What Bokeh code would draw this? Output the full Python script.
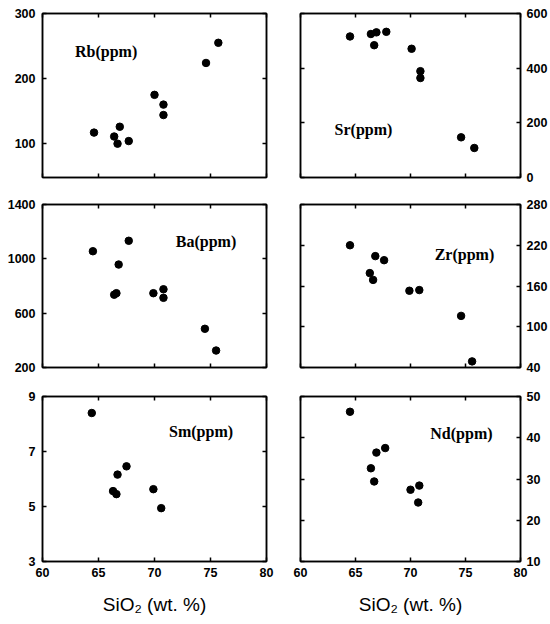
from bokeh.plotting import figure
from bokeh.models import LinearAxis, Range1d, FixedTicker, Label
from bokeh.layouts import gridplot
from bokeh.embed import file_html
from bokeh.resources import INLINE

# ---- data ----
x_ticks = [60, 65, 70, 75, 80]

rb_sio2 = [64.6, 66.4, 66.7, 66.9, 67.7, 70.0, 70.8, 70.8, 74.6, 75.7]
rb_ppm = [117, 111, 100, 126, 104, 175, 160, 144, 224, 255]

sr_sio2 = [64.5, 66.4, 66.7, 66.9, 67.8, 70.1, 70.9, 70.9, 74.6, 75.8]
sr_ppm = [516, 525, 484, 531, 533, 471, 389, 364, 147, 108]

ba_sio2 = [64.5, 66.4, 66.6, 66.8, 67.7, 69.9, 70.8, 70.8, 74.5, 75.5]
ba_ppm = [1056, 736, 747, 958, 1133, 747, 776, 713, 485, 325]

zr_sio2 = [64.5, 66.3, 66.6, 66.8, 67.6, 69.9, 70.8, 74.6, 75.6]
zr_ppm = [220, 179, 169, 204, 198, 153, 154, 116, 49]

sm_sio2 = [64.4, 66.3, 66.6, 66.7, 67.5, 69.9, 70.6]
sm_ppm = [8.4, 5.56, 5.45, 6.16, 6.46, 5.63, 4.94]

nd_sio2 = [64.5, 66.4, 66.7, 66.9, 67.7, 70.0, 70.8, 70.7]
nd_ppm = [46.3, 32.6, 29.4, 36.4, 37.5, 27.4, 28.4, 24.3]

rb_ticks = [100, 200, 300]
sr_ticks = [0, 200, 400, 600]
ba_ticks = [200, 600, 1000, 1400]
zr_ticks = [40, 100, 160, 220, 280]
sm_ticks = [3, 5, 7, 9]
nd_ticks = [10, 20, 30, 40, 50]

X_LABEL = "SiO\u2082 (wt. %)"

TICK_FONT = "Liberation Sans"


def make_axis(ticks, labelled, standoff=6):
    ax = LinearAxis(ticker=FixedTicker(ticks=ticks))
    ax.major_tick_in = 4
    ax.major_tick_out = 0
    ax.minor_tick_line_color = None
    ax.axis_line_width = 1.5
    ax.axis_line_color = "black"
    ax.major_tick_line_width = 1.5
    ax.major_tick_line_color = "black"
    if labelled:
        ax.major_label_text_font = TICK_FONT
        ax.major_label_text_font_size = "12.5px"
        ax.major_label_text_font_style = "bold"
        ax.major_label_text_color = "black"
        ax.major_label_standoff = standoff
    else:
        ax.major_label_text_color = None
        ax.major_label_text_font_size = "1px"
        ax.major_label_standoff = 0
    return ax


def panel(xs, ys, yr, yticks, text, lx, ly, side, top_b, bot_b, fh, bottom_row):
    if side == "left":
        bl, br, fw = 42, 17, 224
    else:
        bl, br, fw = 17, 30, 220
    p = figure(frame_width=fw, frame_height=fh,
               x_range=Range1d(60, 80), y_range=Range1d(*yr),
               x_axis_location=None, y_axis_location=None,
               output_backend="svg", toolbar_location=None,
               min_border_left=bl, min_border_right=br,
               min_border_top=top_b, min_border_bottom=bot_b,
               background_fill_color="white", border_fill_color="white")
    p.grid.grid_line_color = None
    p.outline_line_color = "black"
    p.outline_line_width = 1.5

    bottom = make_axis(x_ticks, bottom_row, standoff=6)
    if bottom_row:
        bottom.axis_label = X_LABEL
        bottom.axis_label_text_font = "Liberation Sans"
        bottom.axis_label_text_font_style = "normal"
        bottom.axis_label_text_font_size = "19px"
        bottom.axis_label_text_color = "black"
        bottom.axis_label_standoff = 14
    p.add_layout(bottom, "below")
    p.add_layout(make_axis(x_ticks, False), "above")
    p.add_layout(make_axis(yticks, side == "left", standoff=7), "left")
    p.add_layout(make_axis(yticks, side == "right", standoff=6), "right")

    p.scatter(xs, ys, size=7.5, color="black")
    p.add_layout(Label(x=lx, y=ly, text=text, text_font="Liberation Serif",
                       text_font_style="bold", text_font_size="16px",
                       text_baseline="middle", text_align="left",
                       text_color="black"))
    return p


p_rb = panel(rb_sio2, rb_ppm, (48, 300), rb_ticks, "Rb(ppm)", 62.9, 241, "left", 13, 13, 164, False)
p_sr = panel(sr_sio2, sr_ppm, (0, 600), sr_ticks, "Sr(ppm)", 63.1, 175, "right", 13, 13, 164, False)
p_ba = panel(ba_sio2, ba_ppm, (200, 1400), ba_ticks, "Ba(ppm)", 71.9, 1128, "left", 14, 14, 163, False)
p_zr = panel(zr_sio2, zr_ppm, (40, 280), zr_ticks, "Zr(ppm)", 72.2, 206, "right", 14, 14, 163, False)
p_sm = panel(sm_sio2, sm_ppm, (3, 9), sm_ticks, "Sm(ppm)", 71.3, 7.74, "left", 15, 60, 165, True)
p_nd = panel(nd_sio2, nd_ppm, (10, 50), nd_ticks, "Nd(ppm)", 71.8, 41.0, "right", 15, 60, 165, True)

grid = gridplot([[p_rb, p_sr], [p_ba, p_zr], [p_sm, p_nd]], toolbar_location=None)

open("out.html", "w").write(file_html(grid, INLINE))
